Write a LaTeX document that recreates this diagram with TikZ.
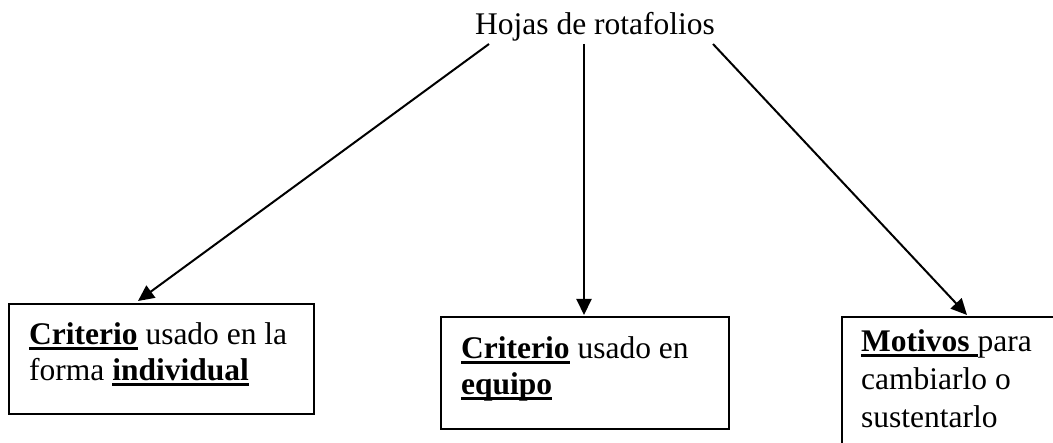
\documentclass[tikz,border=0pt]{standalone}
\usepackage{fontspec}
\setmainfont{Liberation Serif}
\usetikzlibrary{arrows.meta}
\newcommand\ulb[1]{\setbox0\hbox{\bfseries #1}\rlap{\rule[-5pt]{\wd0}{3pt}}\box0\relax}
\begin{document}
\begin{tikzpicture}[x=1pt,y=-1pt,
  lbl/.style={font=\fontsize{31.5}{37.5}\selectfont, inner sep=0pt, align=left},
  boxst/.style={draw, line width=2.2pt, inner sep=0pt},
  arr/.style={line width=2pt, -{Triangle[length=16pt,width=15pt]}}]
\useasboundingbox (0,0) rectangle (1053,443);
\clip (0,0) rectangle (1053,443);
% title
\node[lbl, anchor=base] (title) at (595,35) {Hojas de rotafolios};
% boxes
\node[boxst, anchor=north west, minimum width=305pt, minimum height=110pt] (b1) at (8,303) {};
\node[boxst, anchor=north west, minimum width=288pt, minimum height=112pt] (b2) at (440,316) {};
\node[boxst, anchor=north west, minimum width=300pt, minimum height=200pt] (b3) at (841,316) {};
% texts
\node[lbl, anchor=base west] (t1a) at (29,345) {\ulb{Criterio} usado en la};
\node[lbl, anchor=base west] (t1b) at (29,381) {forma \ulb{individual}};
\node[lbl, anchor=base west] (t2a) at (461,359) {\ulb{Criterio} usado en};
\node[lbl, anchor=base west] (t2b) at (461,395) {\ulb{equipo}};
\node[lbl, anchor=base west] (t3a) at (861,352) {\ulb{Motivos }para};
\node[lbl, anchor=base west] (t3b) at (861,390) {cambiarlo o};
\node[lbl, anchor=base west] (t3c) at (861,428) {sustentarlo};
% connectors
\coordinate (s1) at (489,44);
\coordinate (s2) at (584,44);
\coordinate (s3) at (713,44);
\coordinate (e1) at (138,301);
\coordinate (e2) at (584,315);
\coordinate (e3) at (967,315);
\draw[arr] (s1) -- (e1);
\draw[arr] (s2) -- (e2);
\draw[arr] (s3) -- (e3);
\end{tikzpicture}
\end{document}
